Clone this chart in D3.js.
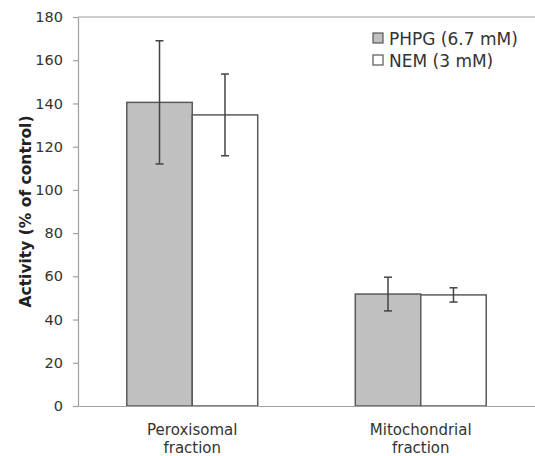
<!DOCTYPE html>
<html>
<head>
<meta charset="utf-8">
<script src="https://cdn.jsdelivr.net/npm/d3@7"></script>
<style>
  body { margin: 0; background: #fff; }
  svg { display: block; font-family: "DejaVu Sans", Verdana, sans-serif; }
</style>
</head>
<body>
<svg id="chart" width="535" height="456"></svg>
<script>
// Fractions and treatments
const categories = [["Peroxisomal", "fraction"], ["Mitochondrial", "fraction"]];
const seriesNames = ["PHPG (6.7 mM)", "NEM (3 mM)"];
const seriesColors = ["#c0c0c0", "#ffffff"];
// Activity (% of control), one array per treatment
const phpgValues = [140.5, 51.8];
const phpgErrors = [28.5, 7.8];
const nemValues = [134.7, 51.4];
const nemErrors = [18.9, 3.3];
const yTicks = [0, 20, 40, 60, 80, 100, 120, 140, 160, 180];

const series = [
  { name: seriesNames[0], color: seriesColors[0], values: phpgValues, errors: phpgErrors },
  { name: seriesNames[1], color: seriesColors[1], values: nemValues, errors: nemErrors }
];

const svg = d3.select("#chart");
const margin = { left: 78, right: 0, top: 17, bottom: 50 };
const W = 535, H = 456;

const x0 = d3.scaleBand()
  .domain(d3.range(categories.length))
  .range([margin.left, W - margin.right])
  .paddingInner(0.427)
  .paddingOuter(0.2135);
const x1 = d3.scaleBand()
  .domain(d3.range(series.length))
  .range([0, x0.bandwidth()]);
const y = d3.scaleLinear().domain([0, 180]).range([H - margin.bottom, margin.top]);

const axisColor = "#a0a0a0";
const textColor = "#333";

// top frame line
svg.append("line")
  .attr("x1", margin.left).attr("x2", W - margin.right)
  .attr("y1", y(180)).attr("y2", y(180))
  .attr("stroke", axisColor).attr("stroke-width", 1.2);

// bars
const groups = svg.append("g").selectAll("g")
  .data(series).join("g");
groups.selectAll("rect")
  .data((s, si) => s.values.map((v, i) => ({ v, i, si, color: s.color })))
  .join("rect")
  .attr("x", d => x0(d.i) + x1(d.si))
  .attr("width", x1.bandwidth())
  .attr("y", d => y(d.v))
  .attr("height", d => y(0) - y(d.v))
  .attr("fill", d => d.color)
  .attr("stroke", "#5a5a5a")
  .attr("stroke-width", 1.5);

// error bars
const errG = svg.append("g").attr("stroke", "#444").attr("stroke-width", 1.5);
series.forEach((s, si) => {
  s.values.forEach((v, i) => {
    const cx = x0(i) + x1(si) + x1.bandwidth() / 2;
    const lo = y(v - s.errors[i]), hi = y(v + s.errors[i]);
    errG.append("line").attr("x1", cx).attr("x2", cx).attr("y1", lo).attr("y2", hi);
    errG.append("line").attr("x1", cx - 4).attr("x2", cx + 4).attr("y1", lo).attr("y2", lo);
    errG.append("line").attr("x1", cx - 4).attr("x2", cx + 4).attr("y1", hi).attr("y2", hi);
  });
});

// y axis
const yAxis = svg.append("g")
  .attr("transform", `translate(${margin.left},0)`)
  .call(d3.axisLeft(y).tickValues(yTicks).tickSize(5).tickPadding(10).tickSizeOuter(0));
yAxis.select(".domain").attr("stroke", axisColor).attr("stroke-width", 1.2);
yAxis.selectAll(".tick line").attr("stroke", axisColor).attr("stroke-width", 1.2);
yAxis.selectAll(".tick text").attr("fill", textColor)
  .style("font-size", "14.5px").style("font-family", "DejaVu Sans, Verdana, sans-serif");

// x axis
const xAxis = svg.append("g")
  .attr("transform", `translate(0,${y(0)})`)
  .call(d3.axisBottom(x0).tickSize(0).tickFormat(""));
xAxis.select(".domain").attr("stroke", axisColor).attr("stroke-width", 1.2);

// category labels
const catG = svg.append("g");
categories.forEach((lines, i) => {
  const cx = x0(i) + x0.bandwidth() / 2;
  const t = catG.append("text")
    .attr("x", cx)
    .attr("y", 435)
    .attr("text-anchor", "middle")
    .attr("fill", textColor)
    .style("font-size", "15px");
  lines.forEach((ln, k) => {
    t.append("tspan").attr("x", cx).attr("dy", k === 0 ? 0 : 18).text(ln);
  });
});

// y axis title
svg.append("text")
  .attr("transform", `translate(31,${(y(0) + y(180)) / 2}) rotate(-90)`)
  .attr("text-anchor", "middle")
  .attr("fill", "#222")
  .style("font-size", "15.5px")
  .style("font-weight", "bold")
  .text("Activity (% of control)");

// legend
const legend = svg.append("g").attr("transform", "translate(373,33)");
series.forEach((s, i) => {
  const g = legend.append("g").attr("transform", `translate(0,${i * 22})`);
  g.append("rect").attr("x", 0).attr("y", 0).attr("width", 10).attr("height", 10)
    .attr("fill", s.color).attr("stroke", "#555").attr("stroke-width", 1.2);
  g.append("text").attr("x", 16).attr("y", 11.5)
    .attr("fill", textColor).style("font-size", "17px").text(s.name);
});
</script>
</body>
</html>
